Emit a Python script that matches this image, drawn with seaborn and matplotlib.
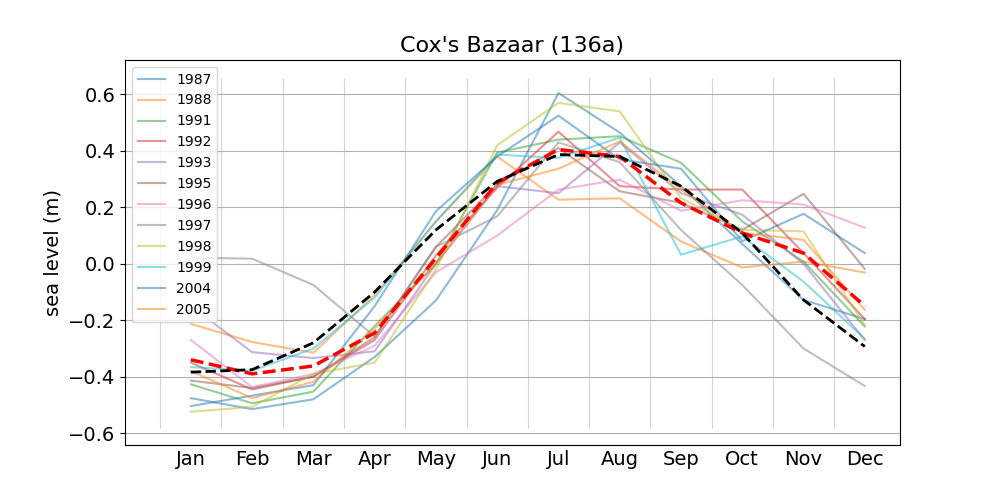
import numpy as np
import pandas as pd
import matplotlib
matplotlib.use("Agg")
import matplotlib.pyplot as plt
import seaborn as sns

months = ["Jan", "Feb", "Mar", "Apr", "May", "Jun", "Jul", "Aug", "Sep", "Oct", "Nov", "Dec"]
years = ["1987", "1988", "1991", "1992", "1993", "1995", "1996", "1997", "1998", "1999", "2004", "2005"]

y1987 = [-0.476, -0.515, -0.480, -0.330, -0.130, 0.190, 0.605, 0.465, 0.275, 0.070, -0.128, -0.196]
y1988 = [-0.213, -0.277, -0.315, -0.110, 0.150, 0.380, 0.227, 0.232, 0.079, -0.013, 0.008, -0.031]
y1991 = [-0.427, -0.494, -0.453, -0.220, 0.000, 0.394, 0.440, 0.452, 0.358, 0.150, 0.008, -0.222]
y1992 = [-0.350, -0.445, -0.400, -0.270, 0.030, 0.270, 0.468, 0.275, 0.263, 0.263, 0.038, -0.196]
y1993 = [-0.150, -0.313, -0.334, -0.310, 0.000, 0.275, 0.250, 0.430, 0.250, 0.174, 0.000, -0.270]
y1995 = [-0.414, -0.440, -0.400, -0.260, 0.060, 0.280, 0.410, 0.257, 0.216, 0.120, 0.248, -0.018]
y1996 = [-0.270, -0.437, -0.390, -0.290, -0.030, 0.100, 0.263, 0.298, 0.188, 0.225, 0.210, 0.128]
y1997 = [0.022, 0.018, -0.075, -0.258, 0.060, 0.168, 0.430, 0.360, 0.120, -0.075, -0.300, -0.433]
y1998 = [-0.524, -0.507, -0.390, -0.350, -0.020, 0.420, 0.570, 0.540, 0.233, 0.120, 0.115, -0.217]
y1999 = [-0.366, -0.379, -0.300, -0.120, 0.150, 0.387, 0.375, 0.447, 0.032, 0.097, -0.063, -0.266]
y2004 = [-0.504, -0.467, -0.430, -0.150, 0.186, 0.380, 0.525, 0.370, 0.337, 0.080, 0.177, 0.038]
y2005 = [-0.380, -0.476, -0.418, -0.230, 0.000, 0.280, 0.337, 0.434, 0.263, 0.110, 0.085, -0.163]

mean_red = [-0.340, -0.390, -0.362, -0.245, 0.020, 0.287, 0.405, 0.380, 0.216, 0.109, 0.038, -0.149]
clim_black = [-0.384, -0.375, -0.280, -0.100, 0.120, 0.292, 0.387, 0.380, 0.275, 0.109, -0.128, -0.293]

series = [y1987, y1988, y1991, y1992, y1993, y1995, y1996, y1997, y1998, y1999, y2004, y2005]

x = np.arange(len(months))
rows = []
for yr, vals in zip(years, series):
    for xi, v in zip(x, vals):
        rows.append({"month": xi, "year": yr, "sea level": v})
df = pd.DataFrame(rows)

fig, ax = plt.subplots(figsize=(10, 5), dpi=100)

ax.vlines(x - 0.5, -0.58, 0.66, color="lightgray", linewidth=0.8, zorder=0)
ax.yaxis.grid(True, color="#b0b0b0", linewidth=0.8, zorder=0)
ax.set_axisbelow(True)

palette = sns.color_palette("tab10", len(years))
sns.lineplot(data=df, x="month", y="sea level", hue="year", palette=palette,
             alpha=0.5, linewidth=1.5, ax=ax)
sns.lineplot(x=x, y=mean_red, color="red", linestyle="--", linewidth=2.5, ax=ax, legend=False)
sns.lineplot(x=x, y=clim_black, color="black", linestyle="--", linewidth=2.0, ax=ax, legend=False)

ax.set_xticks(x)
ax.set_xticklabels(months)
ax.tick_params(axis="x", length=0, labelsize=14)
ax.tick_params(axis="y", labelsize=14)
ax.set_xlabel("")
ax.set_ylabel("sea level (m)", fontsize=14)
ax.set_title("Cox's Bazaar (136a)", fontsize=16)

handles, labels = ax.get_legend_handles_labels()
ax.legend(handles[:len(years)], labels[:len(years)], loc="upper left", fontsize=10)

fig.savefig("out.png", dpi=100)
